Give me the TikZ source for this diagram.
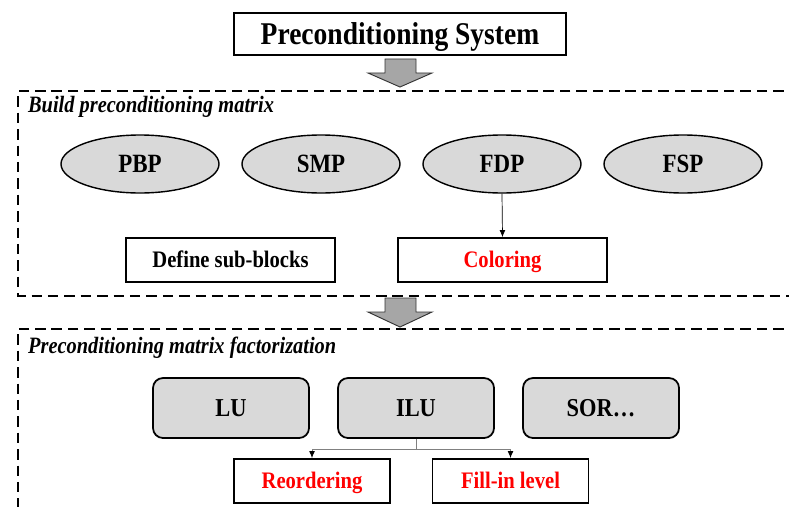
\documentclass[tikz,border=0pt]{standalone}
\usepackage{fontspec}
\setmainfont[FakeStretch=0.87]{Liberation Serif}
\usetikzlibrary{shapes.geometric, arrows.meta}
\definecolor{shapegray}{HTML}{D9D9D9}
\definecolor{arrowgray}{HTML}{A6A6A6}
\tikzstyle{titlebox} = [rectangle, minimum width=9.96cm, minimum height=1.26cm, text centered, text height=17.9pt, text depth=0pt, draw=black, line width=1.5pt, font=\fontsize{27}{32}\selectfont\bfseries]
\tikzstyle{method} = [ellipse, minimum width=4.74cm, minimum height=1.74cm, inner sep=0pt, text height=14.9pt, text depth=0pt, draw=black, line width=1.2pt, fill=shapegray, font=\fontsize{22.5}{27}\selectfont\bfseries]
\tikzstyle{factor} = [rectangle, rounded corners=0.3cm, minimum width=4.68cm, minimum height=1.8cm, text centered, text height=14.5pt, text depth=0pt, draw=black, line width=1.5pt, fill=shapegray, font=\fontsize{22}{26}\selectfont\bfseries]
\tikzstyle{process} = [rectangle, minimum width=6.27cm, minimum height=1.32cm, text centered, text height=13.4pt, text depth=0pt, draw=black, line width=1.5pt, font=\fontsize{20.2}{24}\selectfont\bfseries]
\tikzstyle{option} = [process, minimum width=4.68cm, text=red]
\tikzstyle{region} = [line width=2pt, dash pattern=on 9pt off 5pt]
\tikzstyle{regiontitle} = [anchor=west, font=\fontsize{20}{24}\selectfont\bfseries\itshape]
\tikzstyle{blockarrow} = [draw=black!80, fill=arrowgray, line width=0.8pt, line join=miter]
\tikzstyle{arrow} = [-{Latex[length=6pt,width=5pt]}, line width=0.6pt]

\begin{document}
\begin{tikzpicture}[x=0.03cm, y=-0.03cm]

        \useasboundingbox (0,0) rectangle (789,506);
        \clip (0,0) rectangle (789,506);

        \node (title) [titlebox] at (400,34) {Preconditioning System};

        % Build preconditioning matrix
        \draw [region] (800,91) -- (18,91) -- (18,296) -- (800,296);
        \node (buildlbl) [regiontitle] at (24,107) {Build preconditioning matrix};
        \node (pbp) [method] at (140,164) {PBP};
        \node (smp) [method] at (321,164) {SMP};
        \node (fdp) [method] at (502,164) {FDP};
        \node (fsp) [method] at (683,164) {FSP};
        \node (subblk) [process] at (230.5,260) {Define sub-blocks};
        \node (color) [process, text=red] at (502.5,260) {Coloring};

        % Preconditioning matrix factorization
        \draw [region] (800,329) -- (18,329) -- (18,520);
        \node (factlbl) [regiontitle] at (24,348) {Preconditioning matrix factorization};
        \node (lu) [factor] at (231,408) {LU};
        \node (ilu) [factor] at (416,408) {ILU};
        \node (sor) [factor] at (601,408) {SOR\ldots};
        \node (reorder) [option] at (312,481) {Reordering};
        \node (fillin) [option] at (510.5,481) {Fill-in level};

        % Flechas
        \draw [blockarrow] (385,59) -- (416,59) -- (416,73) -- (432,73) -- (400,87) -- (368,73) -- (385,73) -- cycle;
        \draw [blockarrow] (385,298) -- (416,298) -- (416,312) -- (432,312) -- (400,327) -- (368,312) -- (385,312) -- cycle;
        \draw [arrow] (fdp.south) -- (color.north);
        \draw [gray, line width=0.8pt] (ilu.south) -- ++(0,11) coordinate (split);
        \draw [arrow, gray, line width=0.8pt, -{Latex[length=6pt,width=5pt,black]}] (split) -| (reorder.north);
        \draw [arrow, gray, line width=0.8pt, -{Latex[length=6pt,width=5pt,black]}] (split) -| (fillin.north);

    \end{tikzpicture}
\end{document}
